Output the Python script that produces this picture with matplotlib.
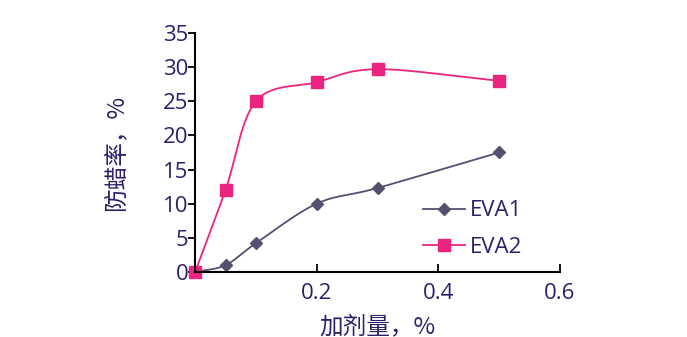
import numpy as np
import matplotlib
matplotlib.use('Agg')
from matplotlib import pyplot as plt

plt.rcParams['font.family'] = ['Open Sans', 'Noto Sans CJK SC', 'DejaVu Sans']

dose = [0, 0.05, 0.1, 0.2, 0.3, 0.5]
eva1 = [0, 1.0, 4.2, 10.0, 12.3, 17.5]
eva2 = [0, 12.0, 25.0, 27.8, 29.7, 28.0]

text_color = '#2e1f6b'
c1 = '#55506e'
c2 = '#ec2480'


def smooth(x, y, n=30):
    # catmull-rom curve through the points, only for drawing
    x = np.asarray(x, float)
    y = np.asarray(y, float)
    px = np.concatenate([[2 * x[0] - x[1]], x, [2 * x[-1] - x[-2]]])
    py = np.concatenate([[2 * y[0] - y[1]], y, [2 * y[-1] - y[-2]]])
    xs, ys = [], []
    t = np.linspace(0, 1, n)
    for i in range(1, len(px) - 2):
        for p, out in ((px, xs), (py, ys)):
            p0, p1, p2, p3 = p[i - 1], p[i], p[i + 1], p[i + 2]
            out.extend(0.5 * (2 * p1 + (-p0 + p2) * t
                              + (2 * p0 - 5 * p1 + 4 * p2 - p3) * t ** 2
                              + (-p0 + 3 * p1 - 3 * p2 + p3) * t ** 3))
    return xs, ys


fig = plt.figure(figsize=(6.87, 3.37), dpi=100)
ax = fig.add_axes([0.284, 0.193, 0.531, 0.709])

sx, sy = smooth(dose, eva1)
ax.plot(sx, sy, color=c1, lw=1.3)
ax.plot(dose, eva1, ls='none', marker='D', ms=6, color=c1, clip_on=False)
sx, sy = smooth(dose, eva2)
ax.plot(sx, sy, color=c2, lw=1.3)
ax.plot(dose, eva2, ls='none', marker='s', ms=8, color=c2, clip_on=False)

# legend handles
ax.plot([], [], color=c1, lw=1.3, marker='D', ms=6, label='EVA1')
ax.plot([], [], color=c2, lw=1.3, marker='s', ms=8, label='EVA2')
ax.legend(loc='lower left', bbox_to_anchor=(0.57, -0.025), frameon=False,
          fontsize=16, labelcolor=text_color, handlelength=1.9,
          labelspacing=0.7, handletextpad=0.2)

ax.set_xlim(0, 0.6)
ax.set_ylim(0, 35)
ax.set_xticks([0.2, 0.4, 0.6])
ax.set_xticklabels(['0.2', '0.4', '0.6'])
ax.set_yticks(range(0, 36, 5))
ax.tick_params(axis='x', direction='in', length=6, width=1.3, colors='black',
               labelcolor=text_color, labelsize=16, pad=8)
ax.tick_params(axis='y', direction='out', length=5, width=1.3, colors='black',
               labelcolor=text_color, labelsize=16, pad=0)
for s in ['top', 'right']:
    ax.spines[s].set_visible(False)
for s in ['left', 'bottom']:
    ax.spines[s].set_linewidth(1.5)

ax.set_xlabel('加剂量，%', fontsize=17, color=text_color,
              family=['Noto Sans CJK SC', 'DejaVu Sans'], labelpad=8)
ax.set_ylabel('防蜡率，%', fontsize=17, color=text_color,
              family=['Noto Sans CJK SC', 'DejaVu Sans'], labelpad=25)

plt.savefig('out.png', dpi=100)
plt.close('all')
